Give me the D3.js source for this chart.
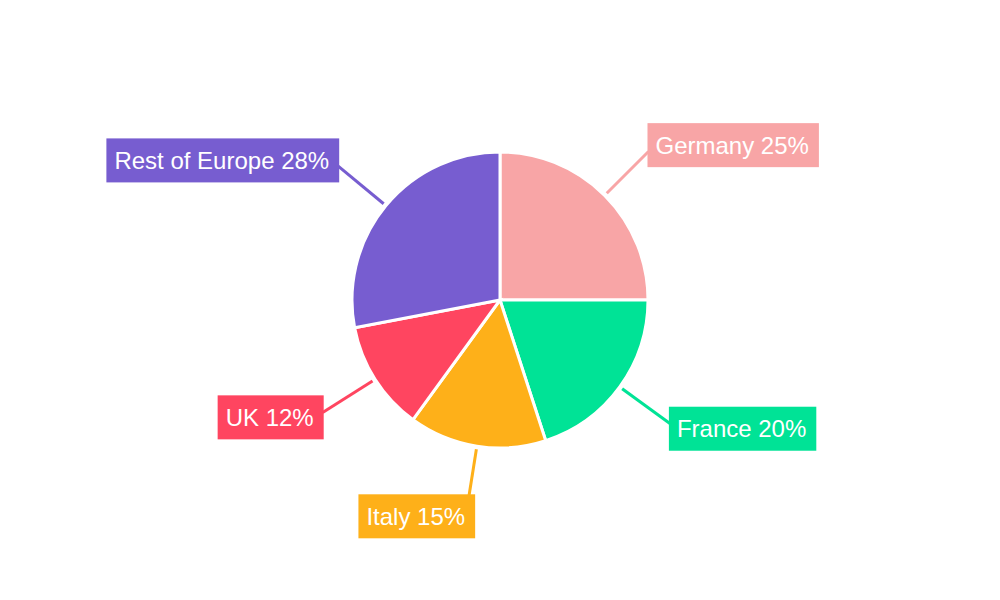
<!DOCTYPE html>
<html>
<head>
<meta charset="utf-8">
<script src="https://cdn.jsdelivr.net/npm/d3@7"></script>
<style>
  body { margin: 0; background: #fff; }
  svg { display: block; font-family: "Liberation Sans", Arial, sans-serif; }
</style>
</head>
<body>
<svg id="chart" width="1000" height="600"></svg>
<script>
const COUNTRIES = ["Germany", "France", "Italy", "UK", "Rest of Europe"];
const SHARES = [25, 20, 15, 12, 28];
const COLOURS = ["#F8A5A6", "#00E396", "#FEB019", "#FF4560", "#775DD0"];

const WIDTH = 1000,
      HEIGHT = 600;
const CX = 500,
      CY = 300,
      RADIUS = 148;

let svg = d3.select("#chart");
let g = svg.append("g").attr("transform", `translate(${CX},${CY})`);

let pie = d3.pie().sort(null).value(d => d.value);
let arcs = pie(COUNTRIES.map((c, i) => ({ name: c, value: SHARES[i], colour: COLOURS[i] })));

let arc = d3.arc().innerRadius(0).outerRadius(RADIUS);

// slices
g.selectAll("path.slice")
    .data(arcs)
    .enter()
    .append("path")
    .attr("class", "slice")
    .attr("d", arc)
    .attr("fill", d => d.data.colour)
    .attr("stroke", "#fff")
    .attr("stroke-width", 3);

function midAngle(d) {
    return (d.startAngle + d.endAngle) / 2;
}

function polar(a, r) {
    return [Math.sin(a) * r, -Math.cos(a) * r];
}

// leader lines
arcs.forEach(d => {
    let a = midAngle(d);
    let p0 = polar(a, RADIUS + 3);
    let p1 = polar(a, 210);
    g.append("line")
        .attr("x1", p0[0]).attr("y1", p0[1])
        .attr("x2", p1[0]).attr("y2", p1[1])
        .attr("stroke", d.data.colour)
        .attr("stroke-width", 3);
});

// label boxes
arcs.forEach(d => {
    let a = midAngle(d);
    let p = polar(a, 210);
    let right = p[0] > 0;
    let cy = p[1] - 9 * Math.cos(a);

    let label = g.append("g");
    let text = label.append("text")
        .attr("fill", "#fff")
        .attr("font-size", 24)
        .text(d.data.name + " " + d.data.value + "%");
    let w = text.node().getComputedTextLength() + 18;
    let x0 = right ? p[0] - 1 : p[0] - w + 1;
    if (Math.abs(Math.sin(a)) < 0.3) x0 += 7;

    label.insert("rect", "text")
        .attr("x", x0)
        .attr("y", cy - 22)
        .attr("width", w)
        .attr("height", 44)
        .attr("fill", d.data.colour);
    text.attr("x", x0 + 8).attr("y", cy + 8.5);
});
</script>
</body>
</html>
